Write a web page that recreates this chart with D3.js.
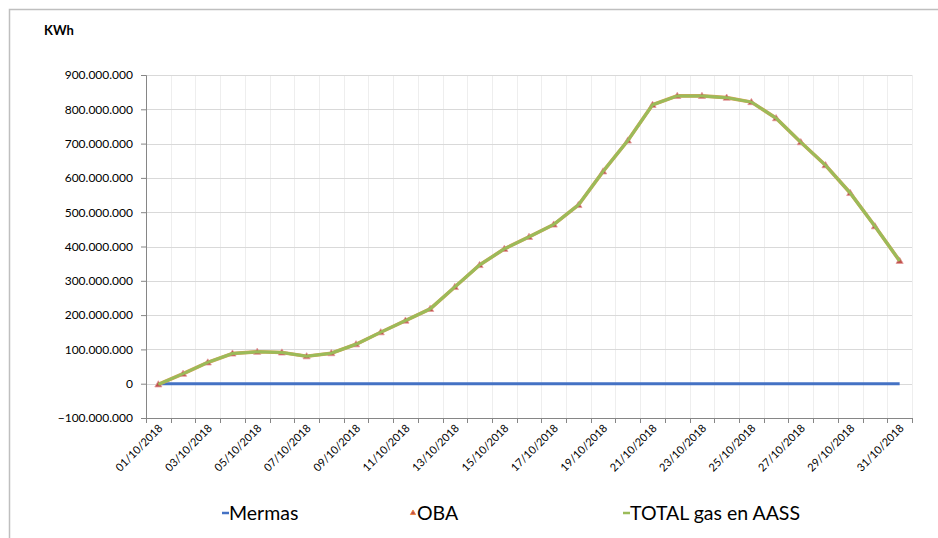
<!DOCTYPE html>
<html>
<head>
<meta charset="utf-8">
<script src="https://cdn.jsdelivr.net/npm/d3@7"></script>
<style>
  body { margin: 0; background: #fff; }
  text { font-family: Lato, "Open Sans", sans-serif; fill: #000; }
</style>
</head>
<body>
<div id="chart"></div>
<script>
// data (KWh, October 2018)
const days = d3.range(1, 32).map(d => String(d).padStart(2, "0") + "/10/2018");
const mermas = days.map(() => 0);
const oba = [-2e6, 29e6, 62e6, 88e6, 93e6, 91e6, 80e6, 89e6, 115e6, 150e6,
  184e6, 218e6, 282e6, 346e6, 393e6, 428e6, 464e6, 521e6, 619e6, 709e6,
  813e6, 839e6, 839e6, 834e6, 821e6, 774e6, 704e6, 637e6, 556e6, 459e6, 358e6];
const total = oba.map((v, i) => v + mermas[i]);
const yTicks = [-100e6, 0, 100e6, 200e6, 300e6, 400e6, 500e6, 600e6, 700e6, 800e6, 900e6];
const seriesNames = ["Mermas", "OBA", "TOTAL gas en AASS"];
const seriesColors = ["#4472C4", "#C0504D", "#9BBB59"];

const W = 938, H = 538,
  m = { top: 75, right: 26, bottom: 120, left: 146 },
  w = W - m.left - m.right,
  h = H - m.top - m.bottom;

const svg = d3.select("#chart").append("svg")
  .attr("width", W)
  .attr("height", H);

// outer chart border
svg.append("rect")
  .attr("x", 9.5).attr("y", 9.5)
  .attr("width", W + 20).attr("height", H + 20)
  .attr("fill", "none")
  .attr("stroke", "#bfbfbf")
  .attr("stroke-width", 1.5);

svg.append("text")
  .attr("x", 44).attr("y", 35)
  .style("font-size", "13px")
  .style("font-weight", "bold")
  .text("KWh");

const g = svg.append("g").attr("transform", `translate(${m.left},${m.top})`);

const x = d3.scaleBand().domain(days).range([0, w]);
const y = d3.scaleLinear().domain([-100e6, 900e6]).range([h, 0]);

const fmt = v => v === 0 ? "0" : d3.format(",")(v).replace(/,/g, ".");

// vertical gridlines at category boundaries
g.append("g")
  .selectAll("line")
  .data(d3.range(1, days.length + 1))
  .enter().append("line")
  .attr("x1", i => Math.round(x.step() * i) + 0.5)
  .attr("x2", i => Math.round(x.step() * i) + 0.5)
  .attr("y1", 0).attr("y2", h)
  .attr("stroke", "#eeeeee");

// horizontal gridlines
g.append("g")
  .selectAll("line")
  .data(yTicks)
  .enter().append("line")
  .attr("x1", 0).attr("x2", w)
  .attr("y1", d => Math.round(y(d)) + 0.5)
  .attr("y2", d => Math.round(y(d)) + 0.5)
  .attr("stroke", "#d9d9d9")
  .attr("stroke-width", 1.2);

// y axis
const yAxis = g.append("g")
  .call(d3.axisLeft(y).tickValues(yTicks).tickFormat(fmt).tickSize(5).tickPadding(8));
yAxis.select(".domain").attr("stroke", "#868686");
yAxis.selectAll(".tick line").attr("stroke", "#868686");
yAxis.selectAll("text")
  .style("font-size", "12px")
  .style("font-family", "Lato, sans-serif")
  .attr("fill", "#1a1a1a");

// x axis at the bottom, ticks between categories
const xAxis = g.append("g").attr("transform", `translate(0,${h})`);
xAxis.append("line")
  .attr("x1", 0).attr("x2", w)
  .attr("y1", 0.5).attr("y2", 0.5)
  .attr("stroke", "#868686");
xAxis.selectAll("line.tk")
  .data(d3.range(0, days.length + 1))
  .enter().append("line")
  .attr("class", "tk")
  .attr("x1", i => Math.round(x.step() * i) + 0.5)
  .attr("x2", i => Math.round(x.step() * i) + 0.5)
  .attr("y1", 0).attr("y2", 5)
  .attr("stroke", "#868686");
xAxis.selectAll("text")
  .data(days.filter((d, i) => i % 2 === 0))
  .enter().append("text")
  .attr("transform", d => `translate(${x(d) + x.bandwidth() / 2 + 5},${11}) rotate(-45)`)
  .attr("text-anchor", "end")
  .attr("fill", "#1a1a1a")
  .style("font-size", "11px")
  .text(d => d);

const cx = d => x(d) + x.bandwidth() / 2;
const line = d3.line().x((v, i) => cx(days[i])).y(v => y(v));

// Mermas
g.append("path")
  .attr("d", line(mermas))
  .attr("fill", "none")
  .attr("stroke", seriesColors[0])
  .attr("stroke-width", 3);

// OBA line + triangle markers
g.append("path")
  .attr("d", line(oba))
  .attr("fill", "none")
  .attr("stroke", "#D9A35B")
  .attr("stroke-width", 3.6);
g.append("g")
  .selectAll("path")
  .data(oba)
  .enter().append("path")
  .attr("d", d3.symbol(d3.symbolTriangle, 22))
  .attr("transform", (v, i) => `translate(${cx(days[i])},${y(v) + 0.5})`)
  .attr("fill", seriesColors[1])
  .attr("stroke", "#e39a9a")
  .attr("stroke-width", 0.8);

// TOTAL
g.append("path")
  .attr("d", line(total))
  .attr("fill", "none")
  .attr("stroke", seriesColors[2])
  .attr("stroke-width", 3);

// legend
const legendX = [221, 409, 622];
const legend = svg.append("g");
seriesNames.forEach((name, i) => {
  const lg = legend.append("g").attr("transform", `translate(${legendX[i]},513)`);
  if (i === 1) {
    lg.append("path")
      .attr("d", d3.symbol(d3.symbolTriangle, 12))
      .attr("transform", "translate(4,0)")
      .attr("fill", seriesColors[1])
      .attr("stroke", "#ED7D31").attr("stroke-width", 0.8);
  } else {
    lg.append("line")
      .attr("x1", 1).attr("x2", 8)
      .attr("stroke", seriesColors[i])
      .attr("stroke-width", 2.5);
  }
  lg.append("text")
    .attr("x", 8).attr("y", 7)
    .style("font-size", "19.5px")
    .text(name);
});
</script>
</body>
</html>
